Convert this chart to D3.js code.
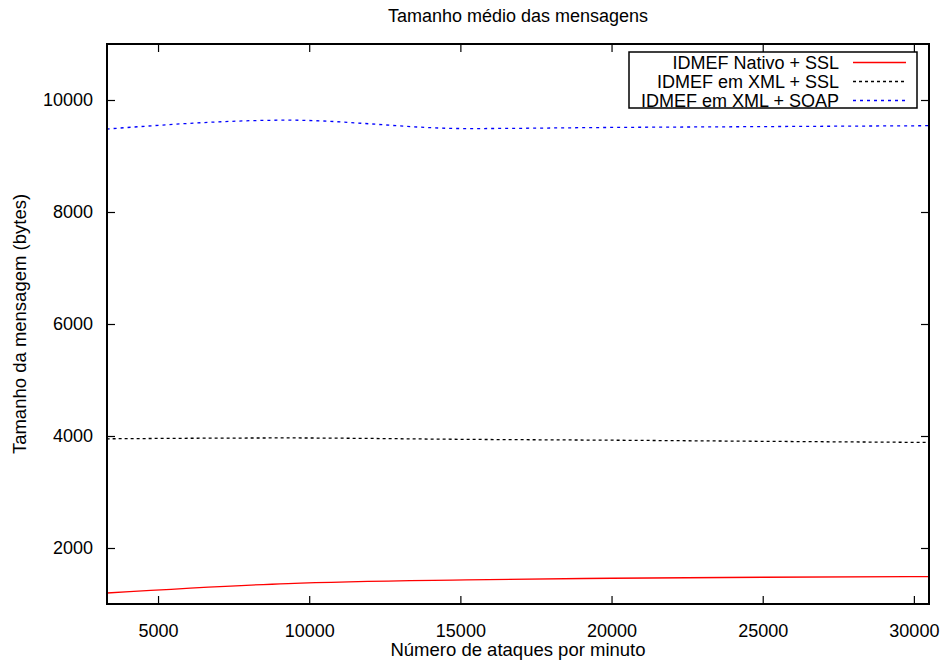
<!DOCTYPE html>
<html>
<head>
<meta charset="utf-8">
<script src="https://cdn.jsdelivr.net/npm/d3@7"></script>
<style>
  body { margin: 0; background: #fff; }
  svg text { font-family: "Liberation Sans", Arial, sans-serif; fill: #000; }
</style>
</head>
<body>
<svg id="chart" width="940" height="661"></svg>
<script>
// data
const attacks = [3300, 9300, 15200, 20000, 25000, 30500];
const nativoSSL = [1196, 1365, 1430, 1460, 1478, 1490];
const xmlSSL = [3950, 3965, 3940, 3925, 3905, 3885];
const xmlSOAP = [9482, 9640, 9490, 9510, 9525, 9541];
const xTicks = [5000, 10000, 15000, 20000, 25000, 30000];
const yTicks = [2000, 4000, 6000, 8000, 10000];

const series = [
  { name: 'IDMEF Nativo + SSL', values: nativoSSL, color: '#ff0000', dash: null },
  { name: 'IDMEF em XML + SSL', values: xmlSSL, color: '#000000', dash: '3,3' },
  { name: 'IDMEF em XML + SOAP', values: xmlSOAP, color: '#0000ff', dash: '3,4' }
];

const svg = d3.select('#chart');
const margin = { top: 44, right: 11, bottom: 57, left: 107 };
const width = 940 - margin.left - margin.right;
const height = 661 - margin.top - margin.bottom;

const x = d3.scaleLinear().domain([3312, 30500]).range([0, width]);
const y = d3.scaleLinear().domain([1000, 11000]).range([height, 0]);

const g = svg.append('g').attr('transform', `translate(${margin.left},${margin.top})`);

// lines
const line = d3.line()
  .x((d, i) => x(attacks[i]))
  .y(d => y(d))
  .curve(d3.curveMonotoneX);

const clip = svg.append('defs').append('clipPath').attr('id', 'clip');
clip.append('rect').attr('width', width).attr('height', height);

g.append('g').attr('clip-path', 'url(#clip)')
  .selectAll('path')
  .data(series)
  .enter()
  .append('path')
  .attr('d', d => line(d.values))
  .attr('fill', 'none')
  .attr('stroke', d => d.color)
  .attr('stroke-width', 1.3)
  .attr('stroke-dasharray', d => d.dash);

// axes, gnuplot style: inward ticks mirrored on all sides
const tickLen = 8;
const axisStyle = sel => {
  sel.select('.domain').remove();
  sel.selectAll('line').attr('stroke', '#000').attr('stroke-width', 1.2);
  sel.selectAll('text').style('font-size', '18px');
};

g.append('g')
  .attr('transform', `translate(0,${height})`)
  .call(d3.axisBottom(x).tickValues(xTicks).tickFormat(d3.format('d')).tickSizeInner(-tickLen).tickPadding(20))
  .call(axisStyle);

g.append('g')
  .call(d3.axisTop(x).tickValues(xTicks).tickFormat('').tickSizeInner(-tickLen))
  .call(axisStyle);

g.append('g')
  .call(d3.axisLeft(y).tickValues(yTicks).tickFormat(d3.format('d')).tickSizeInner(-tickLen).tickPadding(14))
  .call(axisStyle);

g.append('g')
  .attr('transform', `translate(${width},0)`)
  .call(d3.axisRight(y).tickValues(yTicks).tickFormat('').tickSizeInner(-tickLen))
  .call(axisStyle);

g.append('rect')
  .attr('width', width)
  .attr('height', height)
  .attr('fill', 'none')
  .attr('stroke', '#000')
  .attr('stroke-width', 2);

// titles
svg.append('text')
  .attr('x', margin.left + width / 2)
  .attr('y', 22)
  .attr('text-anchor', 'middle')
  .style('font-size', '18px')
  .text('Tamanho médio das mensagens');

svg.append('text')
  .attr('x', margin.left + width / 2)
  .attr('y', 656)
  .attr('text-anchor', 'middle')
  .style('font-size', '18.5px')
  .text('Número de ataques por minuto');

svg.append('text')
  .attr('transform', `translate(26,${margin.top + height / 2}) rotate(-90)`)
  .attr('text-anchor', 'middle')
  .style('font-size', '18.5px')
  .text('Tamanho da mensagem (bytes)');

// legend
const legend = svg.append('g');
legend.append('rect')
  .attr('x', 629).attr('y', 52)
  .attr('width', 288).attr('height', 56)
  .attr('fill', '#fff')
  .attr('stroke', '#000')
  .attr('stroke-width', 1.5);

const rows = legend.selectAll('g.row')
  .data(series)
  .enter()
  .append('g')
  .attr('class', 'row')
  .attr('transform', (d, i) => `translate(0,${Math.round(62 + i * 18.8) + 0.5})`);

rows.append('text')
  .attr('x', 839)
  .attr('dy', '0.35em')
  .attr('text-anchor', 'end')
  .style('font-size', '18px')
  .text(d => d.name);

rows.append('line')
  .attr('x1', 853).attr('x2', 906)
  .attr('stroke', d => d.color)
  .attr('stroke-width', 1.3)
  .attr('stroke-dasharray', d => d.dash);
</script>
</body>
</html>
